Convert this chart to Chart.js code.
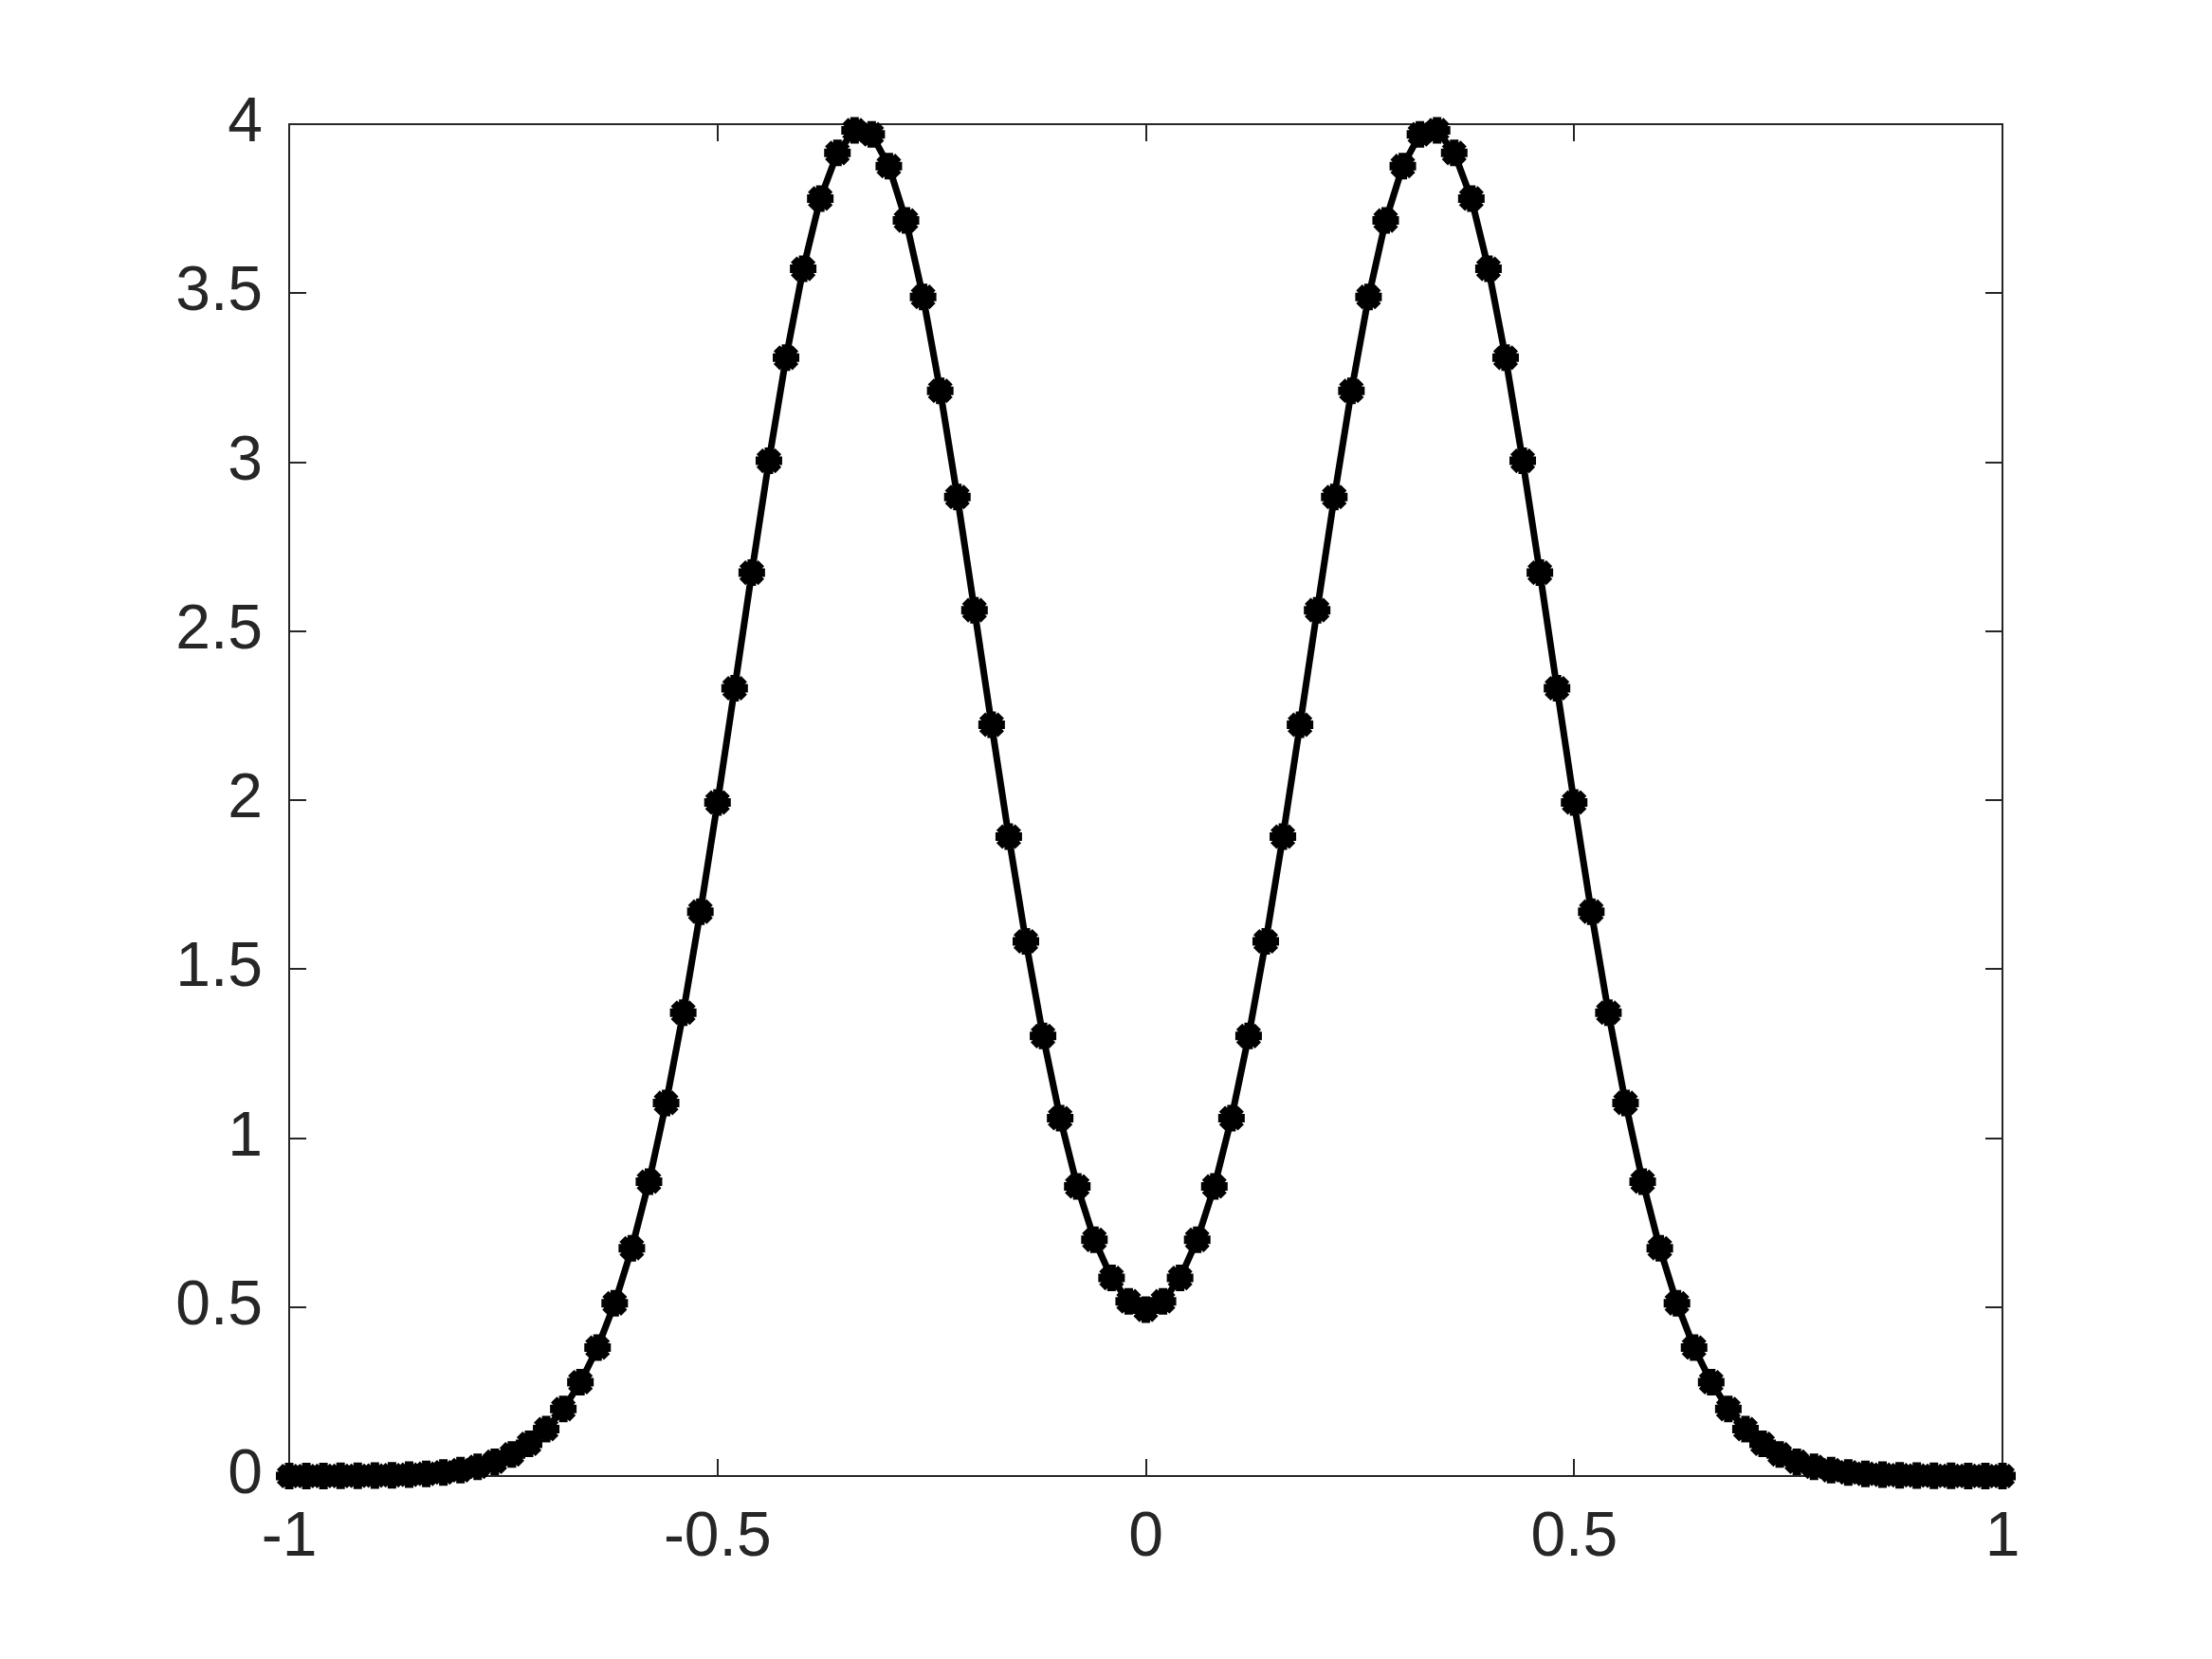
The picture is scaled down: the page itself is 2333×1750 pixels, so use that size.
<!DOCTYPE html>
<html>
<head>
<meta charset="utf-8">
<script src="https://cdn.jsdelivr.net/npm/chart.js@4.4.1/dist/chart.umd.min.js"></script>
<style>
html,body{margin:0;padding:0;background:#fff;}
#wrap{width:2333px;height:1750px;}
</style>
</head>
<body>
<div id="wrap"><canvas id="c" width="2333" height="1750"></canvas></div>
<script>
const xValues = [
-1.00,-0.98,-0.96,-0.94,-0.92,-0.90,-0.88,-0.86,-0.84,-0.82,
-0.80,-0.78,-0.76,-0.74,-0.72,-0.70,-0.68,-0.66,-0.64,-0.62,
-0.60,-0.58,-0.56,-0.54,-0.52,-0.50,-0.48,-0.46,-0.44,-0.42,
-0.40,-0.38,-0.36,-0.34,-0.32,-0.30,-0.28,-0.26,-0.24,-0.22,
-0.20,-0.18,-0.16,-0.14,-0.12,-0.10,-0.08,-0.06,-0.04,-0.02,
0.00,
0.02,0.04,0.06,0.08,0.10,0.12,0.14,0.16,0.18,0.20,
0.22,0.24,0.26,0.28,0.30,0.32,0.34,0.36,0.38,0.40,
0.42,0.44,0.46,0.48,0.50,0.52,0.54,0.56,0.58,0.60,
0.62,0.64,0.66,0.68,0.70,0.72,0.74,0.76,0.78,0.80,
0.82,0.84,0.86,0.88,0.90,0.92,0.94,0.96,0.98,1.00
];
const yValues = [
0.0001,0.0001,0.0002,0.0004,0.0007,0.0013,0.0023,0.0039,0.0065,0.0107,
0.0173,0.0273,0.0422,0.0641,0.0953,0.1388,0.1983,0.2776,0.3800,0.5110,
0.6740,0.8710,1.1040,1.3710,1.6700,1.9930,2.3310,2.6730,3.0040,3.3090,
3.5720,3.7800,3.9150,3.9820,3.9700,3.8760,3.7150,3.4890,3.2110,2.8970,
2.5620,2.2230,1.8920,1.5820,1.3020,1.0590,0.8570,0.6990,0.5860,0.5170,
0.4920,
0.5170,0.5860,0.6990,0.8570,1.0590,1.3020,1.5820,1.8920,2.2230,2.5620,
2.8970,3.2110,3.4890,3.7150,3.8760,3.9700,3.9820,3.9150,3.7800,3.5720,
3.3090,3.0040,2.6730,2.3310,1.9930,1.6700,1.3710,1.1040,0.8710,0.6740,
0.5110,0.3800,0.2776,0.1983,0.1388,0.0953,0.0641,0.0422,0.0273,0.0173,
0.0107,0.0065,0.0039,0.0023,0.0013,0.0007,0.0004,0.0002,0.0001,0.0001
];
const xTickLabels = ['-1','-0.5','0','0.5','1'];
const yTickLabels = ['0','0.5','1','1.5','2','2.5','3','3.5','4'];

const AXIS_COLOR = '#262626';
const TICK_LEN = 18;

const framePlugin = {
  id: 'matlabFrame',
  beforeDatasetsDraw(chart) {
    const {ctx, chartArea: a, scales} = chart;
    ctx.save();
    ctx.strokeStyle = AXIS_COLOR;
    ctx.lineWidth = 2;
    ctx.lineCap = 'butt';
    ctx.strokeRect(a.left, a.top, a.right - a.left, a.bottom - a.top);
    ctx.beginPath();
    scales.x.ticks.forEach(t => {
      const px = Math.round(scales.x.getPixelForValue(t.value));
      ctx.moveTo(px, a.bottom); ctx.lineTo(px, a.bottom - TICK_LEN);
      ctx.moveTo(px, a.top); ctx.lineTo(px, a.top + TICK_LEN);
    });
    scales.y.ticks.forEach(t => {
      const py = Math.round(scales.y.getPixelForValue(t.value));
      ctx.moveTo(a.left, py); ctx.lineTo(a.left + TICK_LEN, py);
      ctx.moveTo(a.right, py); ctx.lineTo(a.right - TICK_LEN, py);
    });
    ctx.stroke();
    ctx.restore();
  }
};

const points = xValues.map((x, i) => ({x: x, y: yValues[i]}));

new Chart(document.getElementById('c'), {
  type: 'line',
  data: {
    datasets: [{
      data: points,
      borderColor: '#000',
      backgroundColor: '#000',
      borderWidth: 7,
      pointStyle: 'star',
      pointRadius: 14,
      pointBorderWidth: 9,
      pointBorderColor: '#000',
      pointBackgroundColor: '#000',
      tension: 0,
      clip: false
    }]
  },
  options: {
    responsive: false,
    animation: false,
    devicePixelRatio: 1,
    layout: {padding: {left: 0, top: 131, right: 221, bottom: 0}},
    plugins: {legend: {display: false}, tooltip: {enabled: false}},
    scales: {
      x: {
        type: 'linear', min: -1, max: 1,
        afterFit(s) { s.height = 193; },
        border: {display: false},
        grid: {display: false, drawTicks: false},
        ticks: {
          stepSize: 0.5, padding: 26, maxRotation: 0,
          color: AXIS_COLOR,
          font: {family: '"Liberation Sans", Arial, Helvetica, sans-serif', size: 66},
          callback: (v, i) => xTickLabels[i]
        }
      },
      y: {
        type: 'linear', min: 0, max: 4,
        afterFit(s) { s.width = 305; },
        border: {display: false},
        grid: {display: false, drawTicks: false},
        ticks: {
          stepSize: 0.5, padding: 28,
          color: AXIS_COLOR,
          font: {family: '"Liberation Sans", Arial, Helvetica, sans-serif', size: 66},
          callback: (v, i) => yTickLabels[i]
        }
      }
    }
  },
  plugins: [framePlugin]
});
</script>
</body>
</html>
